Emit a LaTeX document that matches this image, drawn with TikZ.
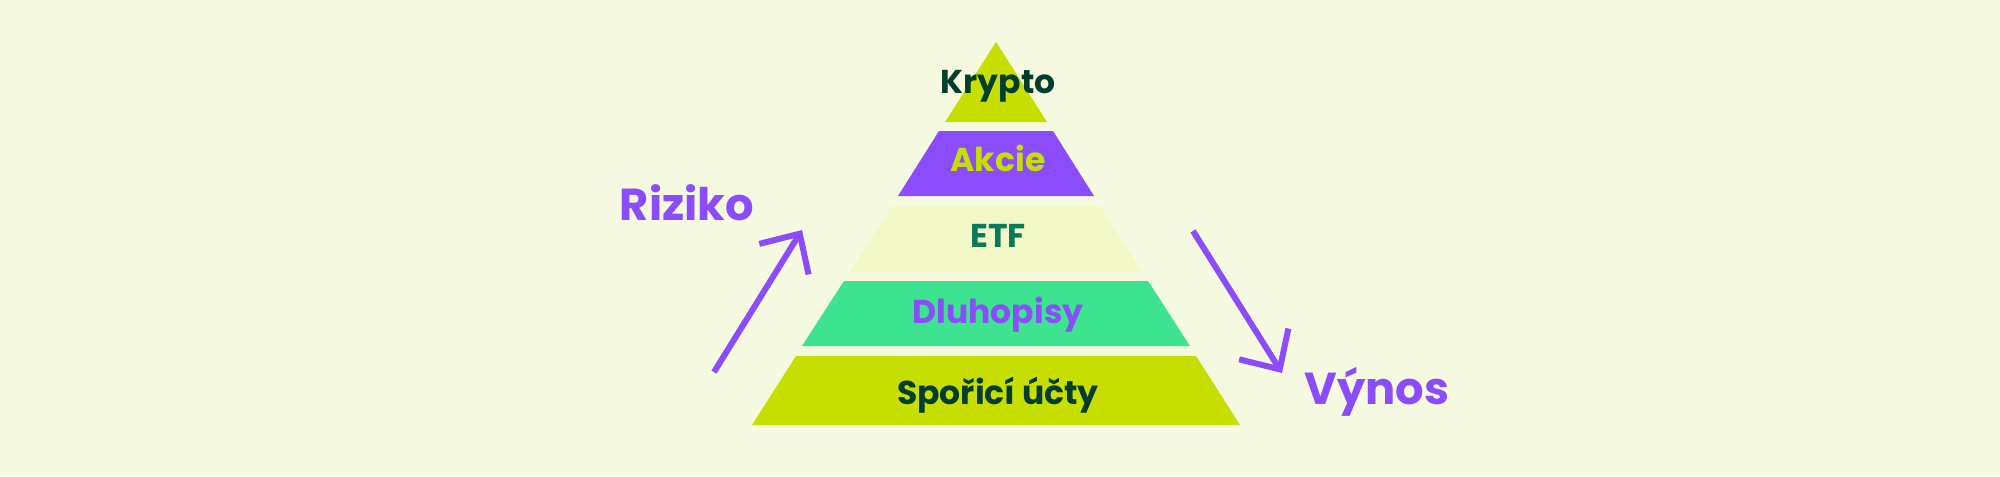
\documentclass[tikz,border=0pt]{standalone}
\usepackage{fontspec}
\setmainfont{Poppins}
\usepackage{tikz}
\usetikzlibrary{arrows.meta}
\definecolor{pagebg}{RGB}{245,249,224}
\definecolor{lime}{RGB}{198,223,0}
\definecolor{lilac}{RGB}{139,76,252}
\definecolor{paleband}{RGB}{241,248,198}
\definecolor{mint}{RGB}{61,227,143}
\definecolor{deepgreen}{RGB}{5,61,43}
\definecolor{tealtxt}{RGB}{7,122,92}
\tikzset{
  lvl/.style={anchor=base,inner sep=0pt,font=\fontsize{16.5}{20}\selectfont\bfseries},
  axislbl/.style={anchor=base,inner sep=0pt,text=lilac,
                  font=\fontsize{22.4}{27}\selectfont\bfseries},
  trend/.style={draw=lilac,line width=3pt,
                -{Straight Barb[length=15pt,width=29pt,line width=3pt]}},
}

\begin{document}
\begin{tikzpicture}[x=0.5pt,y=-0.5pt]
  \useasboundingbox[fill=pagebg] (0,0) rectangle (2000,476);

  % pyramid, top to bottom
  \fill[lime]     (996,42) -- (1047,122) -- (945,122) -- cycle;
  \fill[lilac]    (939,131) -- (1053,131) -- (1094,196) -- (898,196) -- cycle;
  \fill[paleband] (892,206) -- (1100,206) -- (1142,272) -- (850,272) -- cycle;
  \fill[mint]     (844,281) -- (1148,281) -- (1190,346) -- (802,346) -- cycle;
  \fill[lime]     (796,356) -- (1196,356) -- (1240,425) -- (752,425) -- cycle;

  \node[lvl,text=deepgreen] (krypto) at (998,94)  {Krypto};
  \node[lvl,text=lime]      (akcie)  at (998,171) {Akcie};
  \node[lvl,text=tealtxt]   (etf)    at (998,247) {ETF};
  \node[lvl,text=lilac]     (dluh)   at (998,323) {Dluhopisy};
  \node[lvl,text=deepgreen] (sporici) at (998,404) {Spořicí účty};

  \node[axislbl] (riziko) at (687,220) {Riziko};
  \node[axislbl] (vynos)  at (1377,404) {Výnos};

  \coordinate (rizfrom) at (714,372);
  \coordinate (rizto)   at (802,230);
  \coordinate (vynfrom) at (1193,231);
  \coordinate (vynto)   at (1282,373);
  \draw[trend] (rizfrom) -- (rizto);
  \draw[trend] (vynfrom) -- (vynto);
\end{tikzpicture}
\end{document}
